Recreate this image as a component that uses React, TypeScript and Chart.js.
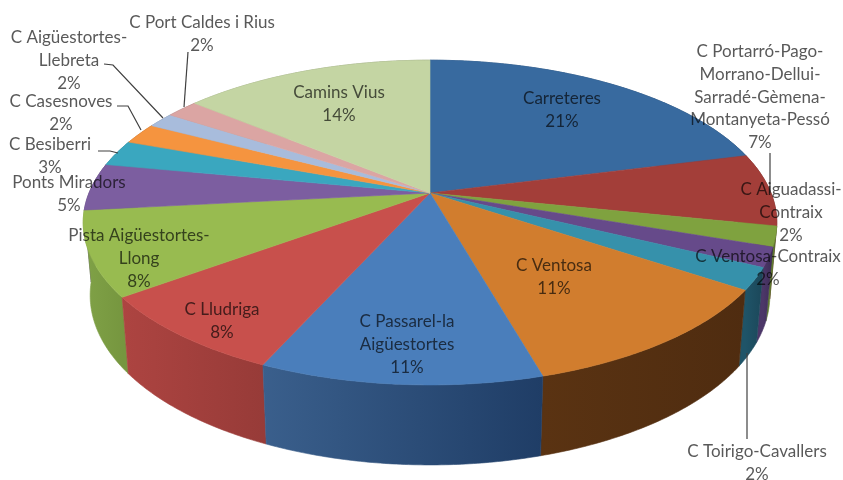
import React, { useEffect, useRef } from "react";
import { Chart, registerables } from "chart.js";

Chart.register(...registerables);

const categories = [
  "Carreteres",
  "C Portarró-Pago-Morrano-Dellui-Sarradé-Gèmena-Montanyeta-Pessó",
  "C Aiguadassi-Contraix",
  "C Ventosa-Contraix",
  "C Toirigo-Cavallers",
  "C Ventosa",
  "C Passarel-la Aigüestortes",
  "C Lludriga",
  "Pista Aigüestortes-Llong",
  "Ponts Miradors",
  "C Besiberri",
  "C Casesnoves",
  "C Aigüestortes-Llebreta",
  "C Port Caldes i Rius",
  "Camins Vius",
];
const values = [21, 7.25, 2, 1.95, 2.2, 11.2, 11.1, 8.2, 8.4, 4.7, 2.6, 2.1, 1.5, 1.8, 14];

const topColors = [
  "#386a9f", "#a33e39", "#7fa23f", "#664a8a", "#3691ab", "#d17d2e", "#4a7ebb", "#c8504c",
  "#98bb50", "#7c5ea0", "#3aa7bf", "#f5943f", "#a8bcdc", "#dba5a3", "#c4d5a3",
];
const sideLeft = [
  "#2a4f78", "#7b2f2b", "#5f7a30", "#4c3768", "#1f5468", "#5a3312", "#3a5f8c", "#ad4441",
  "#80a247", "#5d4678", "#2c7d90", "#b96f2f", "#7e8da5", "#a47c7a", "#93a07a",
];
const sideRight = [
  "#22405f", "#632622", "#4c6226", "#3a2a55", "#1b4658", "#4f2c10", "#1f3d66", "#973b38",
  "#76963f", "#4c3a63", "#246776", "#985b26", "#677488", "#876664", "#798464",
];

const labelLayout = [
  { x: 562, y: 99, lines: ["Carreteres"] },
  { x: 760, y: 52, lines: ["C Portarró-Pago-", "Morrano-Dellui-", "Sarradé-Gèmena-", "Montanyeta-Pessó"] },
  { x: 791, y: 190, lines: ["C Aiguadassi-", "Contraix"] },
  { x: 768, y: 257, lines: ["C Ventosa-Contraix"] },
  { x: 757, y: 452, lines: ["C Toirigo-Cavallers"] },
  { x: 554, y: 266, lines: ["C Ventosa"] },
  { x: 407, y: 322, lines: ["C Passarel-la", "Aigüestortes"] },
  { x: 222, y: 310, lines: ["C Lludriga"] },
  { x: 139, y: 236, lines: ["Pista Aigüestortes-", "Llong"] },
  { x: 69, y: 183, lines: ["Ponts Miradors"] },
  { x: 50, y: 145, lines: ["C Besiberri"] },
  { x: 61, y: 102, lines: ["C Casesnoves"] },
  { x: 69, y: 38, lines: ["C Aigüestortes-", "Llebreta"] },
  { x: 202, y: 23, lines: ["C Port Caldes i Rius"] },
  { x: 339, y: 93, lines: ["Camins Vius"] },
];

const leaderLines = [
  [[188, 52], [184, 107]],
  [[104, 64], [113, 65], [163, 118]],
  [[117, 106], [128, 106], [141, 130]],
  [[98, 151], [110, 151], [118, 153]],
  [[770, 153], [770, 193]],
  [[747, 353], [747, 439]],
];

// Perspective view of the pie's top face, with its apex above the rim's mid-height.
const VIEW = { cx: 430, cy: 193, a: 341, b: 157, k: 0.182, depth: 71, depthFront: 9, shrink: 0.98 };
const LINE_H = 22.6;
const FONT = '17px Lato, "Open Sans", sans-serif';

function projectTop(angle: number): [number, number] {
  const t = angle + Math.PI / 2;
  const u = Math.sin(t);
  const v = Math.cos(t);
  const w = 1 + VIEW.k * v;
  return [VIEW.cx + (VIEW.a * u) / w, VIEW.cy - (VIEW.b * v) / w];
}
function projectBottom(angle: number): [number, number] {
  const [x, y] = projectTop(angle);
  const v = Math.cos(angle + Math.PI / 2);
  return [VIEW.cx + (x - VIEW.cx) * VIEW.shrink, y + VIEW.depth - v * VIEW.depthFront];
}
function rim(start: number, end: number, fn: (a: number) => [number, number]) {
  const n = Math.max(2, Math.ceil((end - start) / 0.01));
  const pts: [number, number][] = [];
  for (let i = 0; i <= n; i++) pts.push(fn(start + ((end - start) * i) / n));
  return pts;
}

const pie3d = {
  id: "pie3d",
  beforeDatasetDraw(chart: any) {
    const ctx: CanvasRenderingContext2D = chart.ctx;
    const arcs = chart.getDatasetMeta(0).data as any[];
    const order = arcs
      .map((arc, i) => ({ arc, i, mid: Math.cos((arc.startAngle + arc.endAngle) / 2 + Math.PI / 2) }))
      .sort((p, q) => q.mid - p.mid);
    ctx.save();
    for (const { arc, i } of order) {
      const top = rim(arc.startAngle, arc.endAngle, projectTop);
      const bottom = rim(arc.startAngle, arc.endAngle, projectBottom).reverse();
      const xs = top.map((p) => p[0]);
      const g = ctx.createLinearGradient(Math.min(...xs), 0, Math.max(...xs) + 1, 0);
      g.addColorStop(0, sideLeft[i]);
      g.addColorStop(1, sideRight[i]);
      ctx.beginPath();
      [...top, ...bottom].forEach((p, j) => (j ? ctx.lineTo(p[0], p[1]) : ctx.moveTo(p[0], p[1])));
      ctx.closePath();
      ctx.fillStyle = g;
      ctx.strokeStyle = g;
      ctx.lineWidth = 0.6;
      ctx.fill();
      ctx.stroke();
    }
    arcs.forEach((arc, i) => {
      const top = rim(arc.startAngle, arc.endAngle, projectTop);
      ctx.beginPath();
      ctx.moveTo(VIEW.cx, VIEW.cy);
      top.forEach((p) => ctx.lineTo(p[0], p[1]));
      ctx.closePath();
      ctx.fillStyle = arc.options.backgroundColor;
      ctx.strokeStyle = arc.options.backgroundColor;
      ctx.lineWidth = 0.6;
      ctx.fill();
      ctx.stroke();
    });
    ctx.restore();
    return false;
  },
  afterDraw(chart: any) {
    const ctx: CanvasRenderingContext2D = chart.ctx;
    ctx.save();
    ctx.strokeStyle = "#404040";
    ctx.lineWidth = 1.2;
    for (const line of leaderLines) {
      ctx.beginPath();
      line.forEach((p, j) => (j ? ctx.lineTo(p[0], p[1]) : ctx.moveTo(p[0], p[1])));
      ctx.stroke();
    }
    ctx.globalCompositeOperation = "multiply";
    ctx.fillStyle = "#595959";
    ctx.font = FONT;
    ctx.textAlign = "center";
    ctx.textBaseline = "middle";
    labelLayout.forEach((l, i) => {
      const text = [...l.lines, `${Math.round(values[i])}%`];
      text.forEach((s, j) => ctx.fillText(s, l.x, l.y + j * LINE_H));
    });
    ctx.restore();
  },
};

export default function App() {
  const ref = useRef<HTMLCanvasElement>(null);
  useEffect(() => {
    document.body.style.margin = "0";
    const chart = new Chart(ref.current as HTMLCanvasElement, {
      type: "pie",
      data: {
        labels: categories,
        datasets: [{ data: values, backgroundColor: topColors, borderWidth: 0 }],
      },
      options: {
        animation: false,
        responsive: false,
        plugins: { legend: { display: false }, tooltip: { enabled: false } },
      },
      plugins: [pie3d],
    } as any);
    return () => chart.destroy();
  }, []);
  return (
    <canvas
      ref={ref}
      width={843}
      height={480}
      style={{ display: "block", width: 843, height: 480, filter: "blur(0.7px)" }}
    />
  );
}
